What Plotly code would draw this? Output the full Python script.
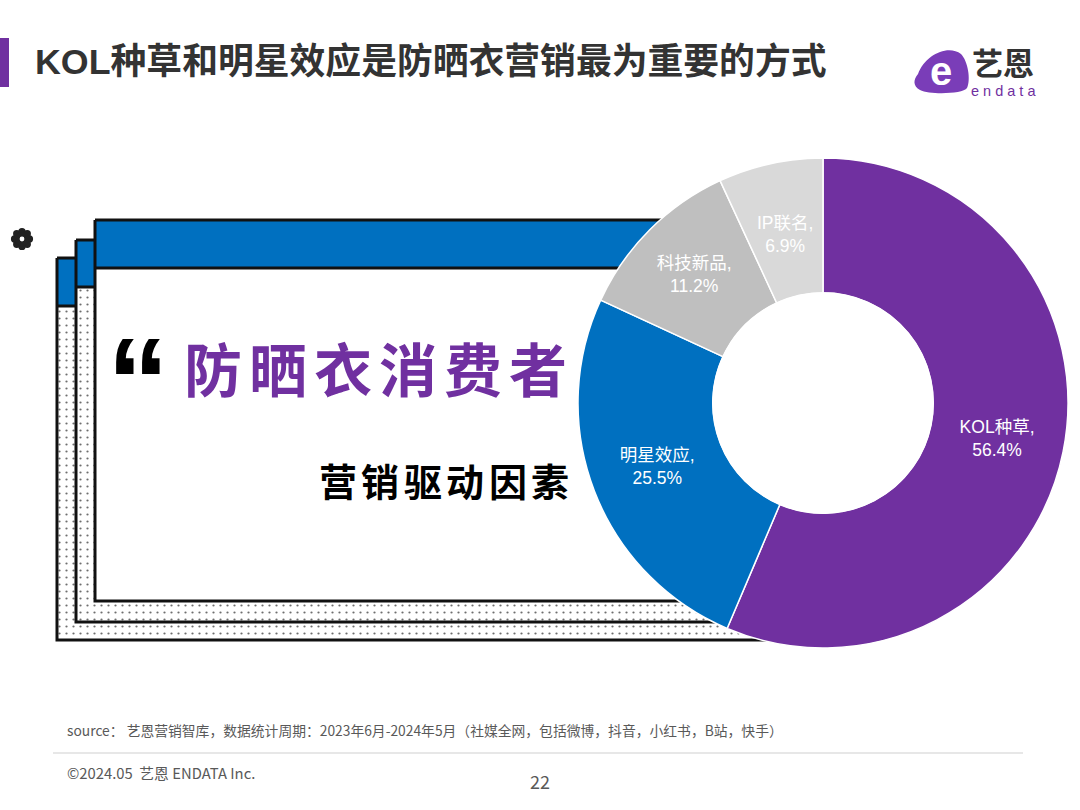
import math
import plotly.graph_objects as go

# ---------------- data ----------------
categories = ["KOL种草", "明星效应", "科技新品", "IP联名"]
shares = [56.4, 25.5, 11.2, 6.9]
slice_colors = ["#7030A0", "#0070C0", "#BFBFBF", "#D9D9D9"]

title_text = "KOL种草和明星效应是防晒衣营销最为重要的方式"
headline_chars = list("防晒衣消费者")
subline_chars = list("营销驱动因素")
logo_word = "endata"
source_text = "source： 艺恩营销智库，数据统计周期：2023年6月-2024年5月（社媒全网，包括微博，抖音，小红书，B站，快手）"
copyright_text = "©2024.05  艺恩 ENDATA Inc."
page_no = "22"

W, H = 1080, 810
CJK = "Noto Sans CJK SC"
LAT = "Liberation Sans, Noto Sans CJK SC"

fig = go.Figure()

# ---------------- decorative stacked frames (pixel coordinates) ----------------
def add_frame(left, top, band_bottom, bottom, right, dotted):
    xs = [left, right, right, left, left]
    ys = [top, top, bottom, bottom, top]
    kw = {}
    if dotted:
        kw["fillpattern"] = dict(shape=".", size=7, solidity=0.08, fgcolor="#6E6E6E",
                                 bgcolor="white", fillmode="replace")
    fig.add_trace(go.Scatter(x=xs, y=ys, fill="toself", fillcolor="white", mode="none",
                             hoverinfo="skip", showlegend=False, **kw))
    fig.add_trace(go.Scatter(x=xs, y=[top, top, band_bottom, band_bottom, top], fill="toself",
                             fillcolor="#0070C0", mode="none", hoverinfo="skip", showlegend=False))
    fig.add_trace(go.Scatter(x=xs + [None, left, right],
                             y=ys + [None, band_bottom, band_bottom],
                             mode="lines", line=dict(color="#111111", width=3),
                             hoverinfo="skip", showlegend=False))

add_frame(57, 258, 306, 640, 780, True)
add_frame(76, 240, 287, 622, 760, True)
add_frame(95, 220, 268, 601, 740, False)

# ---------------- donut ----------------
cx, cy, R = 823, 403, 245
hole = 0.45
label_font = dict(family=LAT, size=17.5, color="white")
text_pos = ["inside", "inside", "inside", "none"]   # the thin slice is labelled below
fig.add_trace(go.Pie(
    labels=categories, values=shares, sort=False, direction="clockwise", rotation=0,
    hole=hole,
    marker=dict(colors=slice_colors, line=dict(color="white", width=1.5)),
    texttemplate="%{label},<br>%{value:.1f}%", textposition=text_pos,
    insidetextorientation="horizontal",
    textfont=label_font,
    domain=dict(x=[(cx - R) / W, (cx + R) / W], y=[1 - (cy + R) / H, 1 - (cy - R) / H]),
    hoverinfo="label+percent", showlegend=False,
))
# white disc covering the hole so the frames do not show through
r_in = R * hole + 0.5
fig.add_trace(go.Pie(
    labels=["hole"], values=[1], sort=False, marker=dict(colors=["white"], line=dict(width=0)),
    textinfo="none", hoverinfo="skip", showlegend=False,
    domain=dict(x=[(cx - r_in) / W, (cx + r_in) / W], y=[1 - (cy + r_in) / H, 1 - (cy - r_in) / H]),
))

# ---------------- shapes ----------------
shapes = [
    dict(type="rect", xref="x", yref="y", x0=0, x1=9, y0=38, y1=87,
         fillcolor="#7030A0", line=dict(width=0), layer="above"),
    dict(type="line", xref="x", yref="y", x0=53, x1=1023, y0=753, y1=753,
         line=dict(color="#CFCFCF", width=1), layer="above"),
    dict(type="path", xref="x", yref="y",
         path="M 918 74 C 925 55, 948 44, 961 54 C 968 61, 971 80, 967 88 "
              "C 963 94, 930 95, 920 90 C 913 86, 913 80, 918 74 Z",
         fillcolor="#7A3DB8", line=dict(width=0), layer="above"),
]
# flower glyph at left (8 round petals, hollow centre)
fx, fy = 22, 239
for k in range(8):
    a = k * math.pi / 4
    px, py = fx + 7.4 * math.cos(a), fy + 7.4 * math.sin(a)
    shapes.append(dict(type="circle", xref="x", yref="y", x0=px - 3.7, x1=px + 3.7,
                       y0=py - 3.7, y1=py + 3.7, fillcolor="#222222", line=dict(width=0),
                       layer="above"))
shapes.append(dict(type="circle", xref="x", yref="y", x0=fx - 7, x1=fx + 7, y0=fy - 7, y1=fy + 7,
                   fillcolor="#222222", line=dict(width=0), layer="above"))
shapes.append(dict(type="circle", xref="x", yref="y", x0=fx - 2.4, x1=fx + 2.4, y0=fy - 2.4,
                   y1=fy + 2.4, fillcolor="white", line=dict(width=0), layer="above"))

# ---------------- annotations ----------------
ann = []
ann.append(dict(x=33, y=62, text=title_text, xanchor="left", yanchor="middle",
                font=dict(family=LAT, size=35.8, color="#333333", weight="bold")))
# logo texts
ann.append(dict(x=941, y=71, text="e", xanchor="center", yanchor="middle",
                font=dict(family=LAT, size=40, color="white", weight="bold")))
ann.append(dict(x=1003, y=61, text="艺恩", xanchor="center", yanchor="middle", borderpad=0,
                font=dict(family=CJK, size=31, color="#333333", weight="bold")))
ann.append(dict(x=1003, y=90.5, text=" ".join(logo_word), xanchor="center", yanchor="middle",
                borderpad=0, font=dict(family=LAT, size=14.5, color="#7030A0")))

# label for the thin IP slice, placed at its mid-angle / mid-radius from the data
cum_before = sum(shares[:3])
mid_angle = (cum_before + shares[3] / 2) / sum(shares) * 2 * math.pi
r_mid = R * (1 + hole) / 2
ann.append(dict(x=cx + r_mid * math.sin(mid_angle), y=cy - r_mid * math.cos(mid_angle) + 5,
                text=f"{categories[3]},<br>{shares[3]:.1f}%", xanchor="center", yanchor="middle",
                font=label_font))

# big quote
ann.append(dict(x=105, y=382, text="“", xanchor="left", yanchor="middle",
                font=dict(family=LAT, size=124, color="#000000", weight="bold")))
# headline characters (letter-spaced)
for i, ch in enumerate(headline_chars):
    ann.append(dict(x=213 + i * 65, y=367, text=ch, xanchor="center", yanchor="middle",
                    font=dict(family=CJK, size=58, color="#7030A0", weight="bold")))
for i, ch in enumerate(subline_chars):
    ann.append(dict(x=338 + i * 42.4, y=479, text=ch, xanchor="center", yanchor="middle",
                    font=dict(family=CJK, size=38, color="#000000", weight="bold")))
# footer
ann.append(dict(x=65, y=730, text=source_text, xanchor="left", yanchor="middle",
                font=dict(family=CJK, size=13.8, color="#595959")))
ann.append(dict(x=65, y=772, text=copyright_text, xanchor="left", yanchor="middle",
                font=dict(family=CJK, size=14.8, color="#595959")))
ann.append(dict(x=540, y=781, text=page_no, xanchor="center", yanchor="middle",
                font=dict(family=CJK, size=18, color="#595959")))

for a in ann:
    a.update(xref="x", yref="y", showarrow=False)

fig.update_layout(
    width=W, height=H, margin=dict(l=0, r=0, t=0, b=0),
    paper_bgcolor="white", plot_bgcolor="white",
    xaxis=dict(range=[0, W], visible=False, fixedrange=True, domain=[0, 1]),
    yaxis=dict(range=[H, 0], visible=False, fixedrange=True, domain=[0, 1]),
    shapes=shapes, annotations=ann, showlegend=False,
)

fig.write_html("out.html")
